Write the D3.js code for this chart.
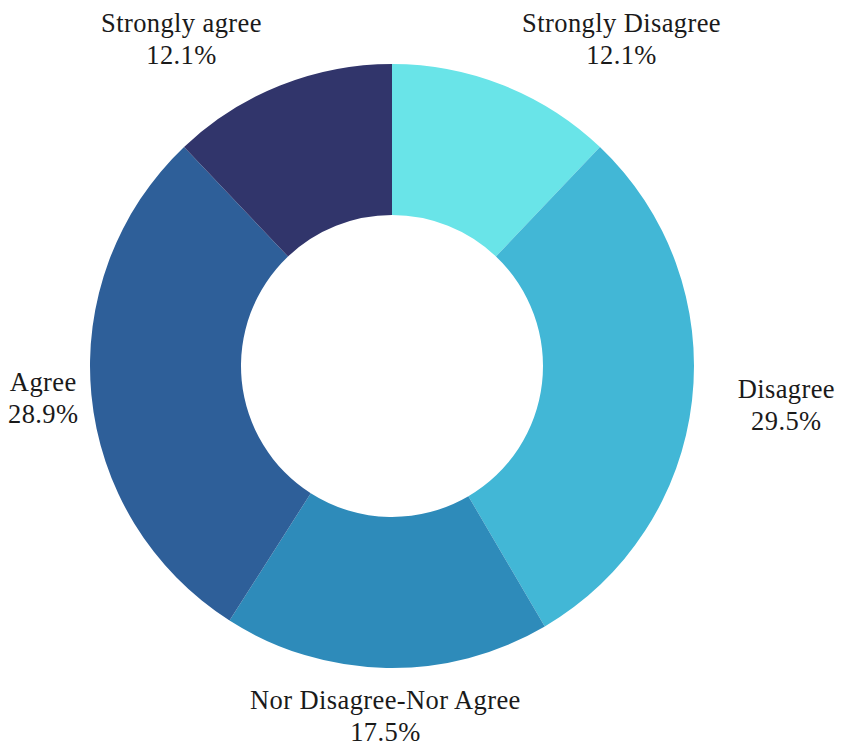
<!DOCTYPE html>
<html>
<head>
<meta charset="utf-8">
<script src="https://cdn.jsdelivr.net/npm/d3@7"></script>
<style>
  html, body { margin: 0; padding: 0; background: #ffffff; }
  svg text { font-family: "Liberation Serif", "DejaVu Serif", serif; fill: #1a1a1a; }
</style>
</head>
<body>
<svg id="chart" width="843" height="749"></svg>
<script>
// Survey responses, clockwise from 12 o'clock
const categories = ["Strongly Disagree", "Disagree", "Nor Disagree-Nor Agree", "Agree", "Strongly agree"];
const shares = [12.1, 29.5, 17.5, 28.9, 12.1];
const colors = ["#69E4E8", "#42B7D6", "#2E8BBA", "#2E5F99", "#31356B"];

const width = 843, height = 749;
const cx = 392, cy = 366;
const outerR = 302, innerR = 151, labelR = 351;
const fontSize = 26.5, lineGap = 32, margin = 8;

const data = categories.map((c, i) => ({ label: c, value: shares[i], color: colors[i] }));

const svg = d3.select("#chart");
const g = svg.append("g").attr("transform", `translate(${cx},${cy})`);

const pie = d3.pie().value(d => d.value).sort(null);
const arc = d3.arc().innerRadius(innerR).outerRadius(outerR);
const arcs = pie(data);

g.selectAll("path.slice")
  .data(arcs)
  .join("path")
  .attr("class", "slice")
  .attr("d", arc)
  .attr("fill", d => d.data.color);

// Two-line labels placed outside each slice
const labels = svg.append("g");
arcs.forEach(a => {
  const mid = (a.startAngle + a.endAngle) / 2;
  const s = Math.sin(mid), c = Math.cos(mid);
  const ax = cx + labelR * s, ay = cy - labelR * c;
  const lines = [a.data.label, d3.format(".1f")(a.data.value) + "%"];

  const t = labels.append("text")
    .attr("text-anchor", "middle")
    .attr("font-size", fontSize)
    .attr("letter-spacing", 0.4);
  lines.forEach((ln, i) => {
    t.append("tspan").attr("x", 0).attr("y", i * lineGap).text(ln);
  });
  const w = d3.max(t.selectAll("tspan").nodes(), n => n.getComputedTextLength());

  let bx;
  if (s > 0.1) bx = ax + w / 2;
  else if (s < -0.1) bx = ax - w / 2;
  else bx = ax;
  bx = Math.max(margin + w / 2, Math.min(width - margin - w / 2, bx));

  // vertical centre of the two-line block at the anchor
  const by = ay - lineGap / 2 + fontSize * 0.3;
  t.attr("transform", `translate(${bx},${by})`);
});
</script>
</body>
</html>
